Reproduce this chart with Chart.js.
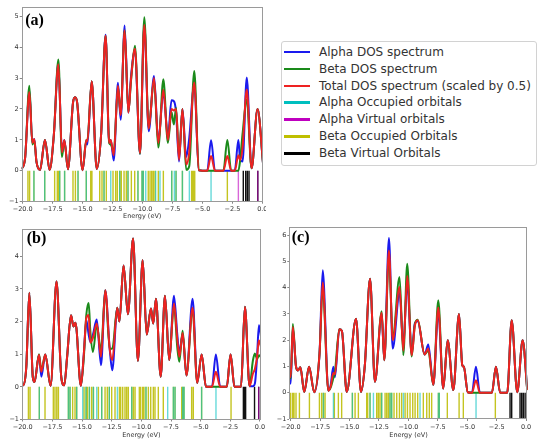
<!DOCTYPE html>
<html>
<head>
<meta charset="utf-8">
<script src="https://cdn.jsdelivr.net/npm/chart.js@4.4.0/dist/chart.umd.min.js"></script>
<style>
  body { margin: 0; background: #fff; }
  #wrap { position: relative; width: 537px; height: 439px; overflow: hidden; background: #fff; }
  #wrap canvas { position: absolute; }
  #legend { position: absolute; left: 281px; top: 41px; width: 254px; height: 123px; border: 1px solid #d2d2d2; border-radius: 3px; font-family: "DejaVu Sans"; font-size: 12px; color: #333; }
  .row { position: absolute; left: 0; width: 254px; height: 14px; line-height: 14px; white-space: nowrap; }
  .swatch { position: absolute; left: 2px; top: 6px; width: 26px; height: 2.5px; }
  .label { position: absolute; left: 37px; top: 0; }
</style>
</head>
<body>
<div id="wrap">
  <canvas id="chartA" width="266" height="222" style="left:0;top:0"></canvas>
  <canvas id="chartB" width="266" height="217" style="left:0;top:222px"></canvas>
  <canvas id="chartC" width="269" height="217" style="left:268px;top:222px"></canvas>
  <div id="legend"></div>
</div>
<script>
// Legend entries
const legendLabels = ['Alpha DOS spectrum', 'Beta DOS spectrum', 'Total DOS spectrum (scaled by 0.5)',
    'Alpha Occupied orbitals', 'Alpha Virtual orbitals', 'Beta Occupied Orbitals', 'Beta Virtual Orbitals'];
const legendColors = ['#1a1aee', '#1a8a1a', '#ee2222', '#00bfbf', '#bf00bf', '#bfbf00', '#000000'];

// Axis ticks
const xTicks = [-20, -17.5, -15, -12.5, -10, -7.5, -5, -2.5, 0];
const yTicksA = [-1, 0, 1, 2, 3, 4, 5];
const yTicksB = [-1, 0, 1, 2, 3, 4];
const yTicksC = [-1, 0, 1, 2, 3, 4, 5, 6];

// Panel (a) spectra
const energyA = [-20.1, -19.8, -19.44, -19.19, -19.03, -18.85, -18.55, -18.14, -17.75, -17.4, -17.02, -16.72, -16.52, -16.22,
    -15.8, -15.63, -15.45, -15.0, -14.69, -14.6, -14.24, -13.82, -13.45, -13.08, -12.78, -12.65, -12.4, -12.05, -11.82,
    -11.49, -11.18, -10.96, -10.63, -10.21, -9.85, -9.48, -9.04, -8.68, -8.26, -7.88, -7.58, -7.38, -7.2, -6.95, -6.67,
    -6.35, -6.1, -5.68, -5.3, -4.6, -4.28, -3.95, -3.25, -2.92, -2.6, -2.3, -2.0, -1.85, -1.65, -1.3, -0.9, -0.4, 0.08];
const totalA = [0.05, 0.4, 2.55, 0.9, 1.03, 0.3, 0.03, 1.0, 0.03, 1.15, 3.45, 0.6, 1.0, 0.05,
    2.2, 2.38, 2.2, 0.02, 1.0, 0.95, 2.9, 0.06, 1.2, 4.37, 0.9, 1.0, 0.5, 2.75, 1.8,
    4.55, 1.88, 2.95, 3.95, 0.58, 4.72, 1.36, 3.0, 0.9, 2.62, 1.0, 2.0, 1.95, 2.0, 0.35, 2.0,
    0.2, 0.6, 2.86, 0.02, 0.0, 0.48, 0.0, 0.0, 0.48, 0.0, 0.0, 0.5, 0.35, 0.75, 2.63, 0.08, 2.0, 0.15];
const alphaA = [0.05, 0.4, 2.6, 0.9, 1.03, 0.3, 0.03, 1.0, 0.03, 1.15, 3.5, 0.6, 1.0, 0.05,
    2.2, 2.38, 2.2, 0.02, 0.95, 0.85, 2.9, 0.06, 1.2, 4.4, 0.9, 1.0, 0.33, 2.85, 1.65,
    4.7, 1.88, 3.05, 3.9, 0.55, 4.75, 1.28, 3.07, 0.95, 2.55, 1.1, 2.28, 2.25, 1.9, 0.3, 2.0,
    0.45, 1.06, 2.8, 0.02, 0.0, 0.99, 0.0, 0.0, 0.0, 0.0, 0.0, 1.0, 0.35, 0.3, 3.02, 0.08, 2.0, 0.15];
const betaA = [0.05, 0.4, 2.75, 0.85, 0.98, 0.3, 0.03, 1.0, 0.03, 1.15, 3.6, 0.45, 0.98, 0.05,
    2.2, 2.38, 2.2, 0.02, 1.0, 1.0, 2.9, 0.06, 1.2, 4.37, 0.9, 0.85, 0.62, 2.7, 1.85,
    4.55, 1.9, 2.9, 4.05, 0.55, 4.97, 1.4, 2.95, 0.75, 2.96, 0.9, 1.9, 1.5, 2.04, 0.45, 2.0,
    0.03, 0.15, 3.23, 0.02, 0.0, 0.0, 0.0, 0.0, 1.0, 0.0, 0.0, 0.0, 0.35, 1.2, 2.3, 0.08, 2.0, 0.15];
const alphaOccA = [-19.06, -18.16, -16.91, -16.5, -15.38, -14.69, -13.21, -11.9, -11.21, -10.38, -10.04, -9.93,
    -7.56, -7.2, -6.67, -12.65, -9.73, -8.9, -8.54, -7.34, -6.09, -4.28];
const betaOccA = [-19.06, -18.16, -16.91, -16.5, -15.38, -14.69, -13.21, -11.9, -11.21, -10.38, -10.04, -9.93,
    -7.56, -7.2, -6.67, -19.56, -19.42, -17.33, -17.11, -17.0, -15.8, -15.6, -14.32, -14.22, -13.57, -13.38, -13.02,
    -12.46, -12.24, -12.1, -11.77, -11.54, -11.35, -10.93, -10.65, -9.52, -9.37, -9.23, -9.1, -8.96, -8.68, -8.26,
    -5.9, -5.8, -5.72, -5.64, -2.92];
const alphaVirtA = [-2.0, -0.38];
const betaVirtA = [-1.59, -1.39, -1.25, -1.11, -0.38];

// Panel (b) spectra
const energyB = [-20.1, -19.95, -19.7, -19.44, -19.15, -19.0, -18.63, -18.43, -18.1, -17.65, -17.15, -16.75, -16.5,
    -16.25, -15.93, -15.72, -15.55, -15.1, -14.85, -14.64, -14.44, -14.3, -14.08, -13.76, -13.4, -13.04, -12.67,
    -12.45, -12.03, -11.85, -11.5, -11.13, -10.7, -10.29, -9.89, -9.55, -9.19, -9.0, -8.77, -8.37, -8.01, -7.65,
    -7.25, -6.97, -6.8, -6.52, -6.2, -5.68, -5.29, -4.92, -4.55, -4.05, -3.72, -3.35, -2.8, -2.48, -2.15, -1.6,
    -1.27, -0.88, -0.6, -0.43, -0.25, -0.09, 0.1];
const totalB = [0.1, 0.05, 0.6, 2.88, 0.3, 0.15, 0.98, 0.46, 0.99, 0.03, 3.23, 0.3, 0.05,
    0.95, 2.19, 1.85, 1.96, 0.03, 1.0, 2.1, 2.2, 1.35, 1.5, 1.94, 0.92, 2.96, 1.17,
    0.82, 2.42, 2.0, 3.72, 2.22, 4.54, 0.8, 3.88, 1.6, 2.4, 1.94, 2.7, 0.31, 2.79, 0.82,
    2.55, 1.45, 0.92, 1.65, 0.35, 2.42, 0.12, 0.99, 0.0, 0.0, 0.46, 0.0, 0.0, 0.99, 0.0, 0.0,
    2.45, 0.02, 0.4, 0.55, 0.9, 1.43, 1.2];
const alphaB = [0.1, 0.05, 0.6, 2.88, 0.3, 0.15, 0.98, 0.31, 0.99, 0.03, 3.23, 0.3, 0.05,
    0.95, 2.19, 1.85, 1.96, 0.03, 1.0, 2.05, 1.6, 1.38, 1.6, 2.06, 0.66, 2.96, 1.17,
    0.51, 2.42, 2.0, 3.72, 2.22, 4.54, 0.8, 3.88, 1.6, 2.4, 1.94, 2.7, 0.31, 2.79, 0.82,
    2.79, 1.6, 1.05, 1.6, 0.35, 2.7, 0.12, 0.99, 0.0, 0.0, 0.99, 0.0, 0.0, 0.99, 0.0, 0.0,
    2.45, 0.02, 0.02, 0.1, 0.9, 1.89, 1.5];
const betaB = [0.1, 0.05, 0.6, 2.88, 0.3, 0.15, 1.0, 0.5, 0.99, 0.03, 3.23, 0.3, 0.05,
    0.95, 2.19, 1.85, 1.96, 0.03, 0.9, 2.2, 2.57, 1.7, 1.07, 1.89, 1.12, 2.96, 1.17,
    1.17, 2.42, 2.0, 3.72, 2.22, 4.54, 0.8, 3.88, 1.6, 2.4, 1.94, 2.7, 0.31, 2.79, 0.82,
    2.5, 1.2, 0.77, 1.72, 0.35, 2.35, 0.12, 0.99, 0.0, 0.0, 0.0, 0.0, 0.0, 0.99, 0.0, 0.0,
    2.45, 0.02, 0.8, 1.02, 0.85, 0.97, 0.9];
const alphaOccB = [-18.6, -16.15, -16.01, -15.45, -14.66, -14.38, -14.04, -13.34, -12.7, -10.81, -9.61, -7.3,
    -7.16, -6.52, -6.4, -4.92, -14.94, -13.76, -12.02, -7.78, -3.71];
const betaOccB = [-18.6, -16.15, -16.01, -15.45, -14.66, -14.38, -14.04, -13.34, -12.7, -10.81, -9.61, -7.3,
    -7.16, -6.52, -6.4, -4.92, -19.52, -19.38, -18.12, -17.42, -17.28, -17.13, -16.99, -15.79, -15.59, -14.83,
    -14.55, -14.19, -13.62, -13.06, -12.87, -12.5, -12.22, -11.85, -11.74, -11.57, -11.38, -11.24, -11.1, -10.67,
    -10.53, -10.17, -10.06, -9.89, -9.78, -9.41, -9.21, -8.99, -8.85, -8.57, -8.15, -6.6, -5.76, -5.62, -2.44];
const alphaVirtB = [-0.11];
const betaVirtB = [-1.4, -1.3, -1.21, -0.46, -0.11];

// Panel (c) spectra
const energyC = [-20.15, -20.0, -19.82, -19.55, -19.38, -19.18, -18.85, -18.44, -18.0, -17.55, -17.28, -16.8, -16.6,
    -16.38, -16.24, -15.87, -15.65, -15.24, -14.45, -14.03, -13.7, -13.26, -12.84, -12.27, -12.05, -11.65, -11.33,
    -10.75, -10.43, -10.1, -9.72, -9.45, -9.21, -8.62, -8.31, -7.88, -7.46, -7.04, -6.66, -6.18, -5.7, -5.42,
    -5.28, -4.95, -4.6, -4.26, -3.92, -2.9, -2.56, -2.2, -1.6, -1.22, -0.75, -0.29, 0.1];
const totalC = [0.7, 0.6, 2.5, 1.0, 0.85, 0.97, 0.03, 0.99, 0.02, 1.5, 4.2, 0.08, 0.25,
    0.75, 0.7, 2.42, 2.35, 0.03, 2.82, 0.03, 1.05, 4.34, 0.42, 3.05, 1.24, 5.42, 2.0,
    4.03, 1.6, 4.45, 1.43, 2.55, 2.76, 1.46, 1.68, 0.3, 3.25, 0.16, 2.0, 0.1, 3.0, 1.05,
    0.98, 0.02, 0.0, 0.48, 0.0, 0.0, 0.99, 0.0, 0.0, 2.76, 0.02, 2.0, 0.1];
const alphaC = [0.4, 0.35, 2.45, 1.0, 0.85, 0.97, 0.03, 0.99, 0.02, 1.5, 4.66, 0.08, 0.3,
    0.99, 0.6, 2.42, 2.35, 0.03, 2.82, 0.03, 1.05, 4.34, 0.42, 3.0, 1.24, 5.89, 1.68,
    3.8, 1.8, 4.2, 1.5, 2.65, 2.72, 1.46, 1.84, 0.3, 3.1, 0.16, 2.0, 0.1, 3.0, 1.05,
    0.98, 0.02, 0.0, 0.99, 0.0, 0.0, 0.99, 0.0, 0.0, 2.76, 0.02, 2.0, 0.15];
const betaC = [0.6, 0.55, 2.62, 1.0, 0.85, 0.97, 0.03, 0.99, 0.02, 1.5, 4.0, 0.08, 0.2,
    0.55, 0.8, 2.42, 2.35, 0.03, 2.82, 0.03, 1.05, 4.34, 0.42, 3.1, 1.24, 5.2, 2.1,
    4.41, 1.43, 4.91, 1.38, 2.6, 2.78, 1.46, 1.6, 0.3, 3.52, 0.16, 2.0, 0.1, 3.0, 1.05,
    0.98, 0.02, 0.0, 0.0, 0.0, 0.0, 0.99, 0.0, 0.0, 2.76, 0.02, 2.0, 0.1];
const alphaOccC = [-17.22, -14.76, -13.26, -12.27, -11.56, -11.42, -7.45, -7.37, -16.37, -12.97, -10.42, -9.01, -4.25];
const betaOccC = [-17.22, -14.76, -13.26, -12.27, -11.56, -11.42, -7.45, -7.37, -20.0, -19.83, -19.72, -19.55,
    -19.26, -18.41, -17.56, -17.37, -17.08, -16.29, -15.95, -15.67, -14.53, -14.25, -13.54, -13.46, -12.69, -12.55,
    -12.41, -11.98, -11.84, -11.7, -11.22, -10.99, -10.76, -10.57, -10.28, -10.08, -9.86, -9.63, -9.43, -9.21,
    -8.73, -8.44, -8.22, -8.02, -6.69, -5.69, -5.33, -2.61];
const alphaVirtC = [];
const betaVirtC = [-1.36, -1.22, -0.51, -0.37, -0.23, -0.08];

// Build the HTML legend
const legendBox = document.getElementById('legend');
legendLabels.forEach((text, i) => {
    const row = document.createElement('div');
    row.className = 'row';
    row.style.top = (2.7 + i * 16.93) + 'px';
    row.innerHTML = '<div class="swatch" style="background:' + legendColors[i] + '"></div><div class="label"></div>';
    row.querySelector('.label').textContent = text;
    legendBox.appendChild(row);
});

// Frame around the plot area and the panel tag
const framePlugin = {
    id: 'frame',
    afterDraw(chart, args, opts) {
        const { ctx, chartArea: a } = chart;
        ctx.save();
        ctx.strokeStyle = '#9a9a9a';
        ctx.lineWidth = 1;
        ctx.strokeRect(Math.round(a.left) + 0.5, Math.round(a.top) + 0.5,
            Math.round(a.right - a.left) - 1, Math.round(a.bottom - a.top) - 1);
        ctx.font = 'bold 16px "Liberation Serif"';
        ctx.fillStyle = '#000';
        ctx.textBaseline = 'alphabetic';
        ctx.fillText(opts.text, a.left + opts.dx, a.top + opts.dy);
        ctx.restore();
    }
};

function curvePoints(energy, values) {
    return energy.map((e, i) => ({ x: e, y: values[i] }));
}

function stickPoints(list) {
    const pts = [];
    list.forEach(e => {
        pts.push({ x: e, y: -1 }, { x: e, y: 0 }, { x: e, y: null });
    });
    return pts;
}

const minus = s => s.replace('-', '\u2212');

function makePanel(id, p) {
    const curve = (values, color) => ({
        data: curvePoints(p.energy, values),
        borderColor: color,
        borderWidth: 2,
        pointRadius: 0,
        cubicInterpolationMode: 'monotone',
        fill: false
    });
    const sticks = (list, color) => ({
        data: stickPoints(list),
        borderColor: color,
        borderWidth: 1.4,
        pointRadius: 0,
        tension: 0,
        spanGaps: false,
        fill: false
    });

    // first dataset is drawn on top
    const datasets = [
        curve(p.total, '#ee2222'),
        curve(p.beta, '#1a8a1a'),
        curve(p.alpha, '#1a1aee'),
        sticks(p.alphaVirt, 'rgba(191,0,191,0.6)'),
        sticks(p.betaVirt, '#111111'),
        sticks(p.alphaOcc, 'rgba(0,191,191,0.6)'),
        sticks(p.betaOcc, '#c4c420')
    ];

    return new Chart(document.getElementById(id), {
        type: 'line',
        data: { datasets: datasets },
        options: {
            responsive: false,
            animation: false,
            devicePixelRatio: 1,
            layout: { padding: { top: p.padTop, right: p.padRight, left: 0, bottom: 0 } },
            plugins: {
                legend: { display: false },
                tooltip: { enabled: false },
                frame: { text: p.tag, dx: p.tagDx, dy: p.tagDy }
            },
            scales: {
                x: {
                    type: 'linear',
                    min: p.xMin,
                    max: p.xMax,
                    afterBuildTicks: s => { s.ticks = xTicks.map(v => ({ value: v })); },
                    afterFit: s => { s.height = p.xAxisHeight; s.paddingLeft = 0; s.paddingRight = 0; },
                    grid: { drawOnChartArea: false, tickLength: 2, color: '#888' },
                    border: { display: false },
                    ticks: {
                        autoSkip: false, maxRotation: 0, padding: 2, color: '#333',
                        font: { family: 'DejaVu Sans', size: 6.5 },
                        callback: v => minus(Number(v).toFixed(1))
                    },
                    title: {
                        display: true, text: 'Energy (eV)', color: '#333',
                        font: { family: 'DejaVu Sans', size: 6.5 },
                        padding: { top: 0, bottom: p.titlePad }
                    }
                },
                y: {
                    type: 'linear',
                    min: -1,
                    max: p.yMax,
                    afterBuildTicks: s => { s.ticks = p.yTicks.map(v => ({ value: v })); },
                    afterFit: s => { s.width = p.yAxisWidth; s.paddingTop = 0; s.paddingBottom = 0; },
                    grid: { drawOnChartArea: false, tickLength: 2, color: '#888' },
                    border: { display: false },
                    ticks: {
                        padding: 1, color: '#333',
                        font: { family: 'DejaVu Sans', size: 6.5 },
                        callback: v => minus(String(v))
                    }
                }
            }
        },
        plugins: [framePlugin]
    });
}

makePanel('chartA', {
    energy: energyA, total: totalA, alpha: alphaA, beta: betaA,
    alphaOcc: alphaOccA, alphaVirt: alphaVirtA, betaOcc: betaOccA, betaVirt: betaVirtA,
    xMin: -20.08, xMax: 0.03, yMax: 5.3, yTicks: yTicksA,
    yAxisWidth: 21.7, xAxisHeight: 20.3, padTop: 7, padRight: 3.3, titlePad: 2,
    tag: '(a)', tagDx: 3.5, tagDy: 18
});

makePanel('chartB', {
    energy: energyB, total: totalB, alpha: alphaB, beta: betaB,
    alphaOcc: alphaOccB, alphaVirt: alphaVirtB, betaOcc: betaOccB, betaVirt: betaVirtB,
    xMin: -20.06, xMax: 0.06, yMax: 4.85, yTicks: yTicksB,
    yAxisWidth: 22, xAxisHeight: 19.5, padTop: 6.5, padRight: 5.3, titlePad: 0,
    tag: '(b)', tagDx: 4.7, tagDy: 14.5
});

makePanel('chartC', {
    energy: energyC, total: totalC, alpha: alphaC, beta: betaC,
    alphaOcc: alphaOccC, alphaVirt: alphaVirtC, betaOcc: betaOccC, betaVirt: betaVirtC,
    xMin: -20.12, xMax: 0.14, yMax: 6.3, yTicks: yTicksC,
    yAxisWidth: 21.3, xAxisHeight: 20, padTop: 5.3, padRight: 9.3, titlePad: 0,
    tag: '(c)', tagDx: 2.4, tagDy: 14.3
});
</script>
</body>
</html>
